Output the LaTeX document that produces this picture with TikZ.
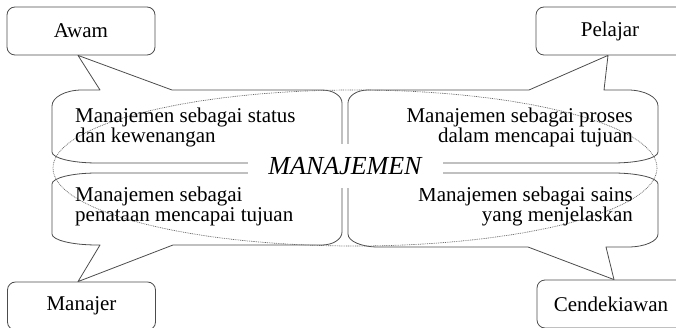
\documentclass[tikz,border=0pt]{standalone}
\usepackage{fontspec}
\setmainfont{Liberation Serif}
\begin{document}
\begin{tikzpicture}[x=1pt,y=-1pt,
  callout/.style={draw=black!70, line width=0.8pt, line join=round},
  person/.style={draw=black!70, line width=0.8pt, rounded corners=8pt,
    minimum width=148pt, minimum height=48pt, inner sep=0pt,
    font=\fontsize{21}{21}\selectfont},
  note/.style={inner sep=0pt, font=\fontsize{21}{20.5}\selectfont},
  ring/.style={draw=black!60, line width=0.7pt, dash pattern=on 0.9pt off 0.9pt},
  title/.style={fill=white, minimum width=195pt, minimum height=44pt, inner sep=0pt,
    font=\fontsize{26}{26}\selectfont\itshape}]
\clip (0,0) rectangle (676,328);

% the four groups of people
\node[person] (awam) at (81,31) {Awam};
\node[person] (pelajar) at (610,31) {Pelajar};
\node[person] (manajer) at (81.5,306) {Manajer};
\node[person] (cendekiawan) at (611,304) {Cendekiawan};

% speech bubbles pointing at each group
\draw[callout] (100,90) -- ([xshift=-3pt]awam.south) -- (172,90) -- (322,90)
  .. controls (333,90) and (342,95.8) .. (342,103) -- (342,150)
  .. controls (342,157.2) and (333,163) .. (322,163) -- (97,163)
  .. controls (72.2,163) and (52,158.1) .. (52,152) -- (52,106)
  .. controls (52,97.2) and (65.4,90) .. (82,90) -- cycle;

\draw[callout] (604,90) -- ([xshift=-2pt]pelajar.south) -- (529,90) -- (368,90)
  .. controls (357,90) and (348,95.8) .. (348,103) -- (348,150)
  .. controls (348,157.2) and (357,163) .. (368,163) -- (613,163)
  .. controls (637.8,163) and (658,158.1) .. (658,152) -- (658,106)
  .. controls (658,97.2) and (644.6,90) .. (628,90) -- cycle;

\draw[callout] (100,245) -- ([xshift=-3.5pt]manajer.north) -- (173,245) -- (322,245)
  .. controls (333,245) and (342,239.2) .. (342,232) -- (342,186)
  .. controls (342,178.8) and (333,173) .. (322,173) -- (97,173)
  .. controls (72.2,173) and (52,177.9) .. (52,184) -- (52,234)
  .. controls (52,240.1) and (72.2,245) .. (97,245) -- cycle;

\draw[callout] (528,247) -- ([xshift=3pt]cendekiawan.north) -- (606,247) -- (628,247)
  .. controls (644.6,247) and (658,241.2) .. (658,234) -- (658,184)
  .. controls (658,177.9) and (637.8,173) .. (613,173) -- (368,173)
  .. controls (357,173) and (348,178.8) .. (348,186) -- (348,234)
  .. controls (348,241.2) and (361.4,247) .. (378,247) -- cycle;

% dotted outline round the whole concept
\draw[ring] (355,168) ellipse [x radius=302, y radius=78];

% bubble texts
\node[note, anchor=north west, align=left] (status) at (75,107.5)
  {Manajemen sebagai status\\dan kewenangan};
\node[note, anchor=north east, align=right] (proses) at (633,107.5)
  {Manajemen sebagai proses\\dalam mencapai tujuan};
\node[note, anchor=north west, align=left] (penataan) at (75,186.5)
  {Manajemen sebagai\\penataan mencapai tujuan};
\node[note, anchor=north east, align=right] (sains) at (633,186.5)
  {Manajemen sebagai sains\\yang menjelaskan};

% central label
\node[title] (pusat) at (345,166.5) {MANAJEMEN};
\end{tikzpicture}
\end{document}
